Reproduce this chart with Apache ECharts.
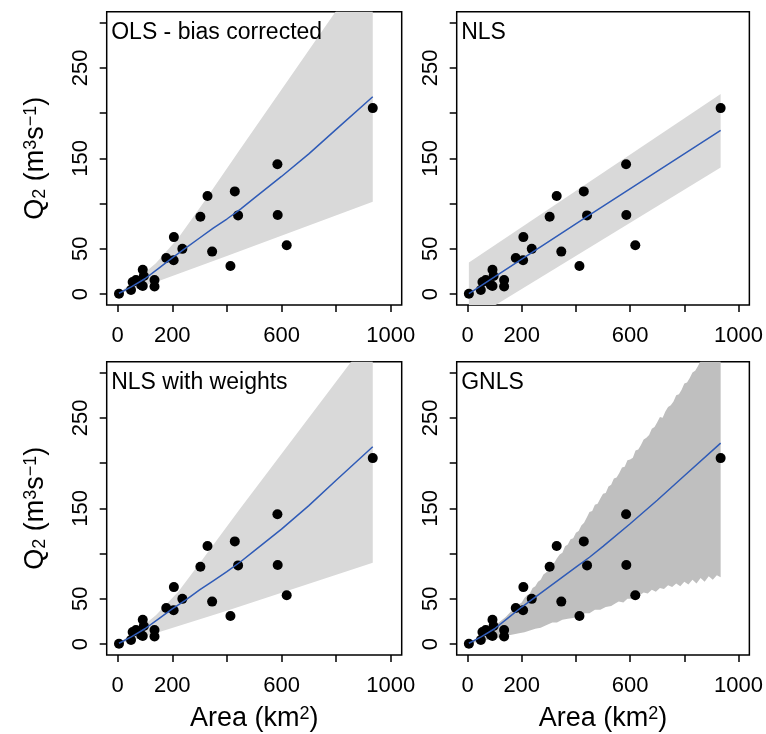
<!DOCTYPE html>
<html>
<head>
<meta charset="utf-8">
<script src="https://cdn.jsdelivr.net/npm/echarts@6/dist/echarts.min.js"></script>
<style>
  html, body { margin: 0; padding: 0; background: #fff; }
  #main { width: 766px; height: 734px; }
</style>
</head>
<body>
<div id="main"></div>
<script>
// observed sites (same in all four panels)
const areaKm2 = [5, 49, 55, 67, 86, 92, 92, 96, 135, 135, 178, 205, 206, 237, 303, 329, 346, 413, 429, 441, 585, 586, 619, 934];
const q2 = [0.5, 4.5, 13.5, 15.5, 10, 27, 9, 20, 15.5, 8.5, 40, 37.5, 63, 50, 85.5, 108.5, 47, 31, 113.5, 87, 143.5, 87.5, 54, 205.5];

// axis ticks / labels
const xTicks = [0, 200, 400, 600, 800, 1000];
const xLabels = [0, 200, 600, 1000];
const yTicks = [0, 50, 100, 150, 200, 250, 300];
const yLabels = [0, 50, 150, 250];

const panelTitles = ['OLS - bias corrected', 'NLS', 'NLS with weights', 'GNLS'];

// fitted curves [area, Q2]
const olsFit = [[5, 1], [50, 8], [100, 17], [150, 28.5], [200, 40], [250, 51], [300, 62], [350, 73], [400, 83],
  [450, 94], [500, 106], [600, 130], [700, 155], [800, 182], [934, 218]];
const nlsFit = [[5, 0.5], [442, 86], [934, 181]];
const wnlsFit = [[5, 1], [50, 8], [100, 17], [150, 28], [200, 39], [250, 49], [300, 60], [350, 70], [400, 80],
  [450, 91], [500, 103], [600, 127], [700, 153], [800, 181], [934, 218]];
const gnlsFit = [[5, 1], [50, 8], [100, 17], [150, 29], [200, 41], [250, 52], [300, 63], [350, 74], [400, 85],
  [450, 96], [500, 108], [600, 133], [700, 159], [800, 186], [934, 222]];

// prediction bands
const olsUpper = [[5, 1.5], [50, 12], [100, 24], [140, 34], [222, 62], [312, 100], [444, 158], [800, 313], [934, 372]];
const olsLower = [[5, 0.5], [50, 4.5], [100, 9.5], [153, 14.7], [400, 42], [934, 102]];
const nlsUpper = [[5, 35], [934, 221]];
const nlsLower = [[5, -30], [934, 140]];
const wnlsUpper = [[5, 1.5], [50, 11], [100, 22], [140, 32], [222, 58], [312, 94], [444, 148], [855, 312], [934, 346]];
const wnlsLower = [[5, 0.5], [50, 4], [100, 8.5], [150, 13], [400, 37], [934, 90]];
const gnlsUpper = [[5, 1], [40, 6], [80, 15], [120, 25], [141, 30], [160, 36], [170, 37], [180, 41], [190, 44], [200, 46],
  [210, 51], [220, 54], [230, 56], [240, 62], [250, 64], [260, 69], [270, 71], [280, 77], [290, 79], [300, 82],
  [310, 89], [320, 90], [330, 95], [340, 99], [350, 101], [360, 108], [370, 110], [380, 116], [390, 117], [400, 123],
  [410, 125], [420, 131], [430, 134], [440, 140], [450, 146], [460, 147], [470, 154], [480, 155], [490, 161], [500, 166],
  [510, 167], [520, 174], [530, 176], [540, 183], [550, 184], [560, 189], [570, 195], [580, 196], [590, 203], [600, 204],
  [610, 206], [620, 214], [630, 215], [640, 220], [650, 226], [660, 228], [670, 231], [680, 238], [690, 240], [700, 245],
  [710, 251], [720, 250], [730, 257], [740, 262], [750, 264], [760, 268], [770, 275], [780, 276], [790, 281], [800, 288],
  [810, 289], [820, 294], [830, 300], [840, 302], [850, 307], [860, 313], [870, 315], [934, 345]];
const gnlsLower = [[5, 0.5], [60, 4], [100, 6], [140, 9], [190, 12], [210, 13], [230, 15], [250, 17], [270, 18], [290, 21],
  [313, 24], [330, 24], [350, 27], [370, 28], [390, 29], [410, 32], [435, 34], [450, 34], [470, 38], [490, 38],
  [510, 41], [530, 42], [545, 45], [558, 47], [575, 46], [590, 50], [605, 50], [620, 53], [635, 54], [650, 57],
  [665, 56], [680, 60], [695, 58], [710, 62], [725, 61], [740, 65], [755, 63], [770, 67], [785, 64], [800, 69],
  [815, 66], [830, 71], [845, 67], [860, 73], [875, 69], [890, 75], [905, 71], [920, 76], [934, 74]];

const fits = [olsFit, nlsFit, wnlsFit, gnlsFit];
const uppers = [olsUpper, nlsUpper, wnlsUpper, gnlsUpper];
const lowers = [olsLower, nlsLower, wnlsLower, gnlsLower];
const bandColors = ['#d9d9d9', '#d9d9d9', '#d9d9d9', '#bfbfbf'];

const font = '"Liberation Sans", Arial, sans-serif';
const lefts = [106.7, 456.7, 106.7, 456.7];
const tops = [11.7, 11.7, 361.7, 361.7];

const chart = echarts.init(document.getElementById('main'), null, {renderer: 'canvas'});

const grids = [], xAxes = [], yAxes = [], series = [], titles = [];
for (let i = 0; i < 4; i++) {
  grids.push({
    left: lefts[i], top: tops[i], width: 295, height: 293.3,
    show: true, borderColor: '#000', borderWidth: 1.5, backgroundColor: 'transparent'
  });
  xAxes.push({
    type: 'value', gridIndex: i, min: -40, max: 1040,
    name: i >= 2 ? '{t|Area (km}{sup|2}{t|)}' : '',
    nameLocation: 'middle', nameGap: 50,
    nameTextStyle: {
      rich: {
        t: {fontSize: 27, fontFamily: font, color: '#000'},
        sup: {fontSize: 18, fontFamily: font, color: '#000', verticalAlign: 'top'}
      }
    },
    axisLine: {show: false, onZero: false},
    splitLine: {show: false},
    axisTick: {show: true, customValues: xTicks, length: 7, lineStyle: {color: '#000', width: 1.5}},
    axisLabel: {
      show: true, customValues: xLabels, margin: 20, fontSize: 22, fontFamily: font, color: '#000',
      formatter: v => String(v)
    }
  });
  yAxes.push({
    type: 'value', gridIndex: i, min: -12, max: 312,
    name: i % 2 === 0 ? '{t|Q}{sub|2}{t| (m}{sup|3}{t|s}{sup|\u22121}{t|)}' : '',
    nameLocation: 'middle', nameGap: 58, nameRotate: 90,
    nameTextStyle: {
      rich: {
        t: {fontSize: 27, fontFamily: font, color: '#000'},
        sub: {fontSize: 18, fontFamily: font, color: '#000', verticalAlign: 'bottom'},
        sup: {fontSize: 18, fontFamily: font, color: '#000', verticalAlign: 'top'}
      }
    },
    axisLine: {show: false, onZero: false},
    splitLine: {show: false},
    axisTick: {show: true, customValues: yTicks, length: 7, lineStyle: {color: '#000', width: 1.5}},
    axisLabel: {
      show: true, customValues: yLabels, rotate: 90, margin: 15, fontSize: 22, fontFamily: font, color: '#000',
      formatter: v => String(v)
    }
  });
  titles.push({
    text: panelTitles[i], left: lefts[i] + 4.5, top: tops[i] + 9, padding: 0,
    textStyle: {fontSize: 23, fontWeight: 'normal', fontFamily: font, color: '#000'}
  });

  const up = uppers[i], lo = lowers[i], col = bandColors[i];
  series.push({
    type: 'custom', xAxisIndex: i, yAxisIndex: i, clip: true, silent: true, z: 1,
    data: [[0, 0]],
    renderItem: (params, api) => {
      const pts = up.map(p => api.coord(p)).concat(lo.slice().reverse().map(p => api.coord(p)));
      return {type: 'polygon', shape: {points: pts}, style: {fill: col}};
    }
  });
  series.push({
    type: 'scatter', xAxisIndex: i, yAxisIndex: i, z: 3, symbolSize: 10,
    itemStyle: {color: '#000', opacity: 1},
    data: areaKm2.map((a, k) => [a, q2[k]])
  });
  series.push({
    type: 'line', xAxisIndex: i, yAxisIndex: i, z: 4, showSymbol: false, smooth: false,
    lineStyle: {color: '#2f5bb7', width: 1.5},
    data: fits[i]
  });
}

chart.setOption({
  animation: false,
  textStyle: {fontFamily: font},
  title: titles,
  grid: grids,
  xAxis: xAxes,
  yAxis: yAxes,
  series: series
});
</script>
</body>
</html>
